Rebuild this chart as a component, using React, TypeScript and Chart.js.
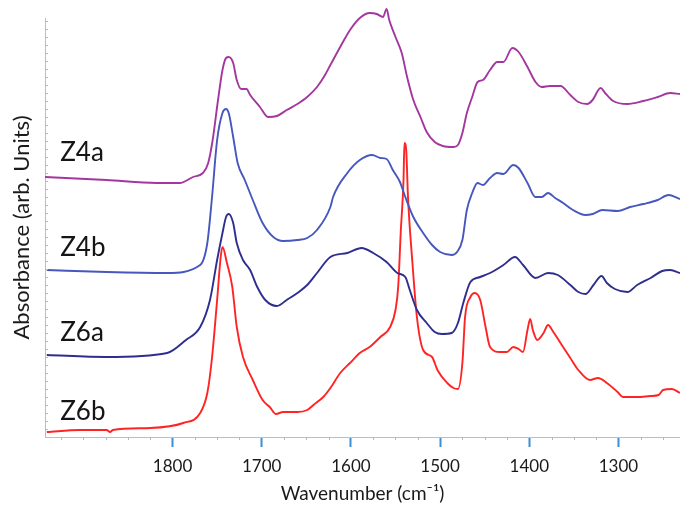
import React, { useEffect, useRef } from "react";
import { Chart, registerables } from "chart.js";

Chart.register(...registerables);

// Wavenumber tick labels on the bottom axis
const TICK_LABELS = [1800, 1700, 1600, 1500, 1400, 1300];
const SERIES_NAMES = ["Z4a", "Z4b", "Z6a", "Z6b"];
const SERIES_COLORS = ["#a3379f", "#4657bd", "#2e2e8e", "#ff2424"];

// Z4a spectrum (offset trace): wavenumber (cm-1) and absorbance (arb. units)
const Z4A_WN = [1943, 1874, 1818, 1792, 1777, 1766, 1760, 1755, 1749, 1744, 1740, 1737, 1732, 1728, 1723, 1717, 1713, 1702, 1693, 1683, 1672, 1660, 1649, 1638, 1629, 1623, 1612, 1601, 1590, 1579, 1571, 1564, 1560, 1557, 1550, 1543, 1537, 1530, 1522, 1515, 1506, 1497, 1485, 1480, 1475, 1470, 1464, 1458, 1452, 1444, 1436, 1429, 1419, 1412, 1402, 1393, 1386, 1377, 1365, 1354, 1345, 1335, 1329, 1320, 1315, 1306, 1290, 1272, 1256, 1242, 1231];
const Z4A_ABS = [2.6, 2.57, 2.54, 2.54, 2.6, 2.64, 2.74, 2.97, 3.37, 3.67, 3.79, 3.8, 3.74, 3.57, 3.48, 3.48, 3.42, 3.3, 3.2, 3.21, 3.27, 3.33, 3.4, 3.5, 3.62, 3.72, 3.9, 4.07, 4.19, 4.24, 4.23, 4.2, 4.28, 4.17, 4.0, 3.84, 3.6, 3.37, 3.2, 3.05, 2.95, 2.91, 2.9, 2.92, 3.04, 3.24, 3.4, 3.55, 3.57, 3.67, 3.75, 3.75, 3.89, 3.85, 3.7, 3.55, 3.5, 3.51, 3.51, 3.42, 3.35, 3.33, 3.37, 3.49, 3.44, 3.36, 3.33, 3.36, 3.4, 3.44, 3.43];

// Z4b spectrum
const Z4B_WN = [1941, 1874, 1806, 1769, 1761, 1756, 1750, 1744, 1740, 1737, 1732, 1727, 1719, 1710, 1699, 1687, 1676, 1660, 1649, 1638, 1623, 1620, 1604, 1590, 1576, 1567, 1560, 1553, 1545, 1539, 1530, 1519, 1509, 1500, 1487, 1481, 1475, 1470, 1464, 1458, 1452, 1444, 1436, 1429, 1418, 1412, 1402, 1393, 1386, 1379, 1371, 1362, 1351, 1337, 1329, 1318, 1301, 1287, 1272, 1256, 1244, 1231];
const Z4B_ABS = [1.67, 1.65, 1.64, 1.72, 1.94, 2.37, 2.97, 3.24, 3.28, 3.24, 3.0, 2.74, 2.57, 2.37, 2.14, 2.0, 1.96, 1.97, 1.99, 2.07, 2.3, 2.4, 2.64, 2.77, 2.82, 2.79, 2.78, 2.67, 2.55, 2.4, 2.2, 2.04, 1.92, 1.85, 1.82, 1.85, 1.97, 2.27, 2.44, 2.54, 2.52, 2.59, 2.64, 2.63, 2.72, 2.69, 2.54, 2.4, 2.4, 2.44, 2.39, 2.34, 2.27, 2.22, 2.23, 2.27, 2.26, 2.3, 2.33, 2.37, 2.42, 2.38];

// Z6a spectrum
const Z6A_WN = [1941, 1874, 1806, 1785, 1769, 1758, 1750, 1744, 1740, 1737, 1732, 1728, 1721, 1713, 1705, 1696, 1683, 1672, 1660, 1649, 1638, 1623, 1604, 1588, 1575, 1560, 1548, 1539, 1534, 1526, 1515, 1506, 1498, 1487, 1480, 1474, 1466, 1455, 1444, 1429, 1416, 1407, 1393, 1379, 1368, 1354, 1345, 1337, 1328, 1319, 1313, 1304, 1290, 1279, 1264, 1251, 1242, 1231];
const Z6A_ABS = [0.82, 0.8, 0.84, 0.97, 1.1, 1.37, 1.77, 2.04, 2.2, 2.23, 2.14, 1.94, 1.77, 1.67, 1.5, 1.37, 1.31, 1.37, 1.44, 1.52, 1.64, 1.8, 1.84, 1.89, 1.84, 1.75, 1.64, 1.6, 1.47, 1.27, 1.14, 1.05, 1.03, 1.04, 1.14, 1.34, 1.55, 1.6, 1.64, 1.72, 1.8, 1.72, 1.59, 1.64, 1.62, 1.52, 1.45, 1.43, 1.52, 1.61, 1.54, 1.48, 1.45, 1.52, 1.59, 1.66, 1.67, 1.64];

// Z6b spectrum
const Z6B_WN = [1941, 1904, 1874, 1870, 1867, 1825, 1788, 1769, 1761, 1756, 1750, 1746, 1744, 1739, 1733, 1728, 1721, 1710, 1699, 1691, 1684, 1676, 1660, 1649, 1642, 1631, 1623, 1612, 1601, 1590, 1579, 1567, 1556, 1550, 1547, 1544, 1541, 1540, 1538, 1536, 1531, 1526, 1519, 1509, 1503, 1492, 1485, 1480, 1475, 1472, 1466, 1461, 1455, 1449, 1444, 1433, 1425, 1418, 1412, 1407, 1402, 1399, 1396, 1391, 1384, 1379, 1373, 1365, 1354, 1345, 1332, 1323, 1313, 1301, 1295, 1279, 1264, 1255, 1250, 1240, 1231];
const Z6B_ABS = [0.05, 0.07, 0.07, 0.05, 0.07, 0.09, 0.14, 0.24, 0.44, 0.77, 1.37, 1.8, 1.9, 1.74, 1.5, 1.1, 0.8, 0.57, 0.37, 0.3, 0.23, 0.25, 0.25, 0.27, 0.32, 0.4, 0.49, 0.64, 0.74, 0.84, 0.9, 1.0, 1.1, 1.27, 1.5, 2.07, 2.57, 2.94, 2.87, 2.4, 1.74, 1.2, 0.87, 0.8, 0.67, 0.54, 0.49, 0.48, 0.74, 1.2, 1.4, 1.44, 1.37, 1.1, 0.9, 0.85, 0.85, 0.9, 0.88, 0.85, 1.07, 1.18, 1.07, 0.97, 1.04, 1.12, 1.05, 0.94, 0.79, 0.67, 0.57, 0.59, 0.54, 0.45, 0.4, 0.4, 0.41, 0.42, 0.47, 0.48, 0.44];

// Where each trace name is written (wavenumber, absorbance)
const NAME_WN = [1926, 1926, 1926, 1926];
const NAME_ABS = [2.84, 1.89, 1.04, 0.25];

const X_MIN = 1231;
const X_MAX = 1943;
const Y_MAX = 4.19;

const FONT = "Lato, 'Open Sans', sans-serif";

const toPoints = (wn: number[], abs: number[]) => wn.map((w, i) => ({ x: w, y: abs[i] }));

const decorPlugin = {
  id: "specDecor",
  afterDatasetsDraw(chart: any) {
    const { ctx, chartArea, scales } = chart;
    const xs = scales.x;
    const ys = scales.y;
    ctx.save();
    // minor ticks on the wavenumber axis
    ctx.strokeStyle = "#b8b8b8";
    ctx.lineWidth = 1;
    for (let w = 1925; w > X_MIN; w -= 25) {
      if (TICK_LABELS.includes(w)) continue;
      const px = Math.round(xs.getPixelForValue(w)) + 0.5;
      ctx.beginPath();
      ctx.moveTo(px, chartArea.bottom);
      ctx.lineTo(px, chartArea.bottom + 3);
      ctx.stroke();
    }
    // minor ticks on the absorbance axis
    for (let v = 0.08; v < Y_MAX; v += 0.08) {
      const py = Math.round(ys.getPixelForValue(v)) + 0.5;
      ctx.beginPath();
      ctx.moveTo(chartArea.left, py);
      ctx.lineTo(chartArea.left + 3, py);
      ctx.stroke();
    }
    // trace names
    ctx.fillStyle = "#151515";
    ctx.font = `26px ${FONT}`;
    ctx.textAlign = "left";
    ctx.textBaseline = "middle";
    SERIES_NAMES.forEach((name, i) => {
      ctx.fillText(name, xs.getPixelForValue(NAME_WN[i]), ys.getPixelForValue(NAME_ABS[i]));
    });
    ctx.restore();
  },
};

export default function App() {
  const canvasRef = useRef<HTMLCanvasElement | null>(null);

  useEffect(() => {
    if (!canvasRef.current) return;
    const series = [
      toPoints(Z4A_WN, Z4A_ABS),
      toPoints(Z4B_WN, Z4B_ABS),
      toPoints(Z6A_WN, Z6A_ABS),
      toPoints(Z6B_WN, Z6B_ABS),
    ];
    const chart = new Chart(canvasRef.current, {
      type: "line",
      data: {
        datasets: series.map((data, i) => ({
          label: SERIES_NAMES[i],
          data,
          borderColor: SERIES_COLORS[i],
          borderWidth: 1.9,
          pointRadius: 0,
          cubicInterpolationMode: "monotone",
          fill: false,
          clip: false,
        })),
      },
      options: {
        animation: false,
        responsive: false,
        events: [],
        layout: { padding: { top: 18, right: 0, bottom: 0, left: 0 } },
        plugins: { legend: { display: false }, tooltip: { enabled: false } },
        scales: {
          x: {
            type: "linear",
            reverse: true,
            min: X_MIN,
            max: X_MAX,
            afterBuildTicks: (scale: any) => {
              scale.ticks = TICK_LABELS.map((v) => ({ value: v }));
            },
            afterFit: (scale: any) => {
              scale.height = 69;
            },
            grid: {
              display: true,
              drawOnChartArea: false,
              drawTicks: true,
              tickLength: 10,
              tickColor: "#3b8fd4",
              tickWidth: 2,
            },
            border: { display: true, color: "#bdbdbd", width: 1 },
            ticks: {
              color: "#1a1a1a",
              font: { family: FONT, size: 17 },
              padding: 9,
              maxRotation: 0,
              autoSkip: false,
              callback: (v: any) => String(v),
            },
            title: {
              display: true,
              text: "Wavenumber (cm\u207B\u00B9)",
              color: "#1a1a1a",
              font: { family: FONT, size: 19 },
              padding: { top: 0, bottom: 1 },
            },
          },
          y: {
            type: "linear",
            min: 0,
            max: Y_MAX,
            afterBuildTicks: (scale: any) => {
              scale.ticks = [];
            },
            afterFit: (scale: any) => {
              scale.width = 45;
            },
            grid: { display: false },
            border: { display: true, color: "#bdbdbd", width: 1 },
            ticks: { display: false },
            title: {
              display: true,
              text: "Absorbance (arb. Units)",
              color: "#1a1a1a",
              font: { family: FONT, size: 22 },
              padding: { top: 9, bottom: 0 },
            },
          },
        },
      },
      plugins: [decorPlugin],
    } as any);
    return () => chart.destroy();
  }, []);

  return (
    <div style={{ position: "absolute", left: 0, top: 0, width: 680, height: 506, background: "#fff" }}>
      <canvas ref={canvasRef} width={680} height={506} style={{ display: "block" }} />
    </div>
  );
}
